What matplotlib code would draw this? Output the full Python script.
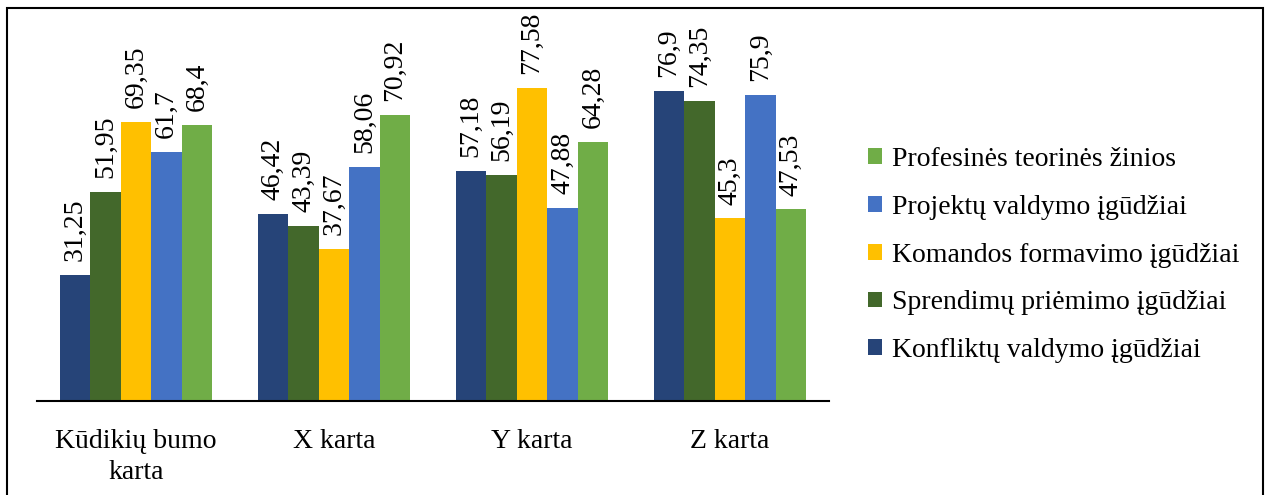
import matplotlib
matplotlib.use('Agg')

import matplotlib.pyplot as plt
import numpy as np
from matplotlib.patches import Rectangle

plt.rcParams.update({
    'font.family': ['Liberation Serif', 'DejaVu Serif'],
    'font.size': 20,
})

# ── Data ──────────────────────────────────────────────────────────────
categories = ['Kūdikių bumo\nkarta', 'X karta', 'Y karta', 'Z karta']
series_names = [
    'Konfliktų valdymo įgūdžiai',
    'Sprendimų priėmimo įgūdžiai',
    'Komandos formavimo įgūdžiai',
    'Projektų valdymo įgūdžiai',
    'Profesinės teorinės žinios',
]
konfliktu = [31.25, 46.42, 57.18, 76.9]
sprendimu = [51.95, 43.39, 56.19, 74.35]
komandos = [69.35, 37.67, 77.58, 45.3]
projektu = [61.7, 58.06, 47.88, 75.9]
profesines = [68.4, 70.92, 64.28, 47.53]
values = [konfliktu, sprendimu, komandos, projektu, profesines]
colors = ['#264478', '#43682B', '#FFC000', '#4472C4', '#70AD47']

# ── Figure ────────────────────────────────────────────────────────────
W, H = 1273, 495
fig = plt.figure(figsize=(W / 100, H / 100), dpi=100)
ax = fig.add_axes([37 / W, 1 - 401 / H, (829 - 37) / W, (401 - 20) / H])

x = np.arange(len(categories))
bw = 0.154
for i, (name, vals, c) in enumerate(zip(series_names, values, colors)):
    pos = x + (i - 2) * bw
    bars = ax.bar(pos, vals, width=bw, color=c, label=name, zorder=2)
    for b, v in zip(bars, vals):
        ax.annotate(f'{v:g}'.replace('.', ','), (b.get_x() + b.get_width() / 2, v),
                    xytext=(0, 10), textcoords='offset points',
                    rotation=90, ha='center', va='bottom', fontsize=20)

ax.set_xlim(-0.5, len(categories) - 0.5)
ax.set_ylim(0, 381 / 4.03)
ax.set_xticks(x)
ax.set_xticklabels(categories, linespacing=1.35)
ax.tick_params(axis='x', length=0, pad=20)
ax.set_yticks([])
for s in ['top', 'right', 'left']:
    ax.spines[s].set_visible(False)
ax.spines['bottom'].set_linewidth(1.5)

handles, labels = ax.get_legend_handles_labels()
fig.legend(handles[::-1], labels[::-1], loc='center left',
           bbox_to_anchor=(843 / W, 1 - 255 / H), frameon=False,
           handlelength=0.5, handleheight=0.5, handletextpad=0.35,
           labelspacing=0.82, fontsize=20)

fig.add_artist(Rectangle((7 / W, -0.05), (1263 - 7) / W, 1 - 8 / H + 0.05,
                         transform=fig.transFigure, fill=False,
                         edgecolor='black', linewidth=1.5))

fig.savefig('out.png', dpi=100)
